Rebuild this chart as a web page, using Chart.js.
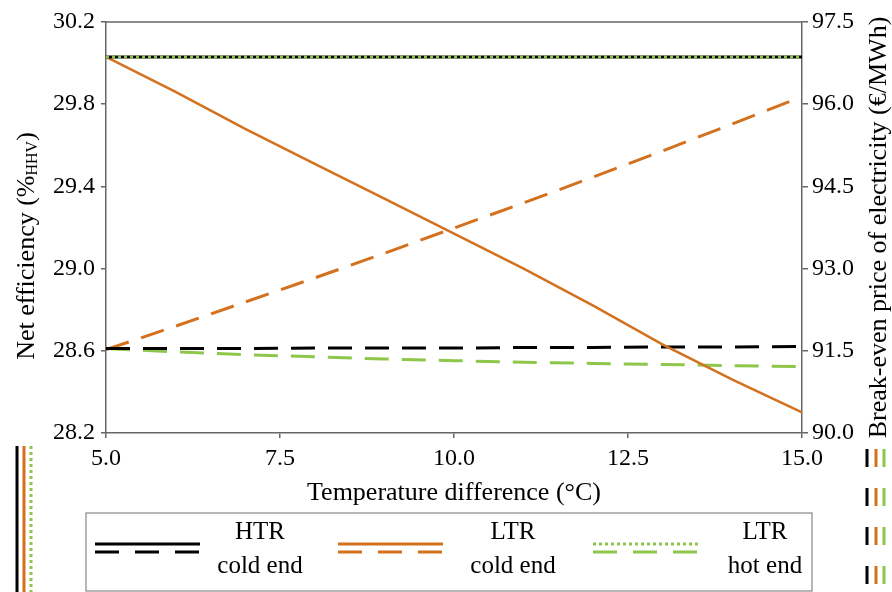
<!DOCTYPE html>
<html>
<head>
<meta charset="utf-8">
<script src="https://cdn.jsdelivr.net/npm/chart.js@4.4.1/dist/chart.umd.min.js"></script>
<style>
  html, body { margin: 0; padding: 0; background: #fff; }
  #wrap { width: 892px; height: 592px; }
</style>
</head>
<body>
<div id="wrap"><canvas id="graphEfficiencyPrice"></canvas></div>
<script>
// temperature difference (°C)
var temperatureDiff = [5, 6, 7, 8, 9, 10, 11, 12, 13, 14, 15];

// net efficiency (%HHV)
var effHtrCold = [30.03, 30.03, 30.03, 30.03, 30.03, 30.03, 30.03, 30.03, 30.03, 30.03, 30.03];
var effLtrCold = [30.03, 29.86, 29.68, 29.51, 29.34, 29.17, 29.00, 28.82, 28.63, 28.46, 28.30];
var effLtrHot = [30.03, 30.03, 30.03, 30.03, 30.03, 30.03, 30.03, 30.03, 30.03, 30.03, 30.03];

// break-even price of electricity (€/MWh)
var priceHtrCold = [91.54, 91.54, 91.54, 91.55, 91.55, 91.55, 91.56, 91.56, 91.57, 91.57, 91.58];
var priceLtrCold = [91.52, 91.95, 92.39, 92.83, 93.28, 93.74, 94.20, 94.67, 95.15, 95.64, 96.14];
var priceLtrHot = [91.54, 91.48, 91.43, 91.39, 91.35, 91.32, 91.29, 91.27, 91.25, 91.23, 91.21];

var black = '#000000';
var orange = '#d4711f';
var green = '#8dc64a';
var axisColor = '#666666';
var serif = '"Liberation Serif", "Times New Roman", serif';

function pts(ys) {
    return temperatureDiff.map(function (x, i) { return {x: x, y: ys[i]}; });
}

// frame, rotated titles, legend box and the stray legend pieces at the edges
var decorations = {
    id: 'decorations',
    afterDraw: function (chart) {
        var ctx = chart.ctx;
        var a = chart.chartArea;
        ctx.save();

        ctx.strokeStyle = axisColor;
        ctx.lineWidth = 1.5;
        ctx.beginPath();
        ctx.moveTo(a.left, a.top);
        ctx.lineTo(a.right, a.top);
        ctx.stroke();

        // left title with subscript
        ctx.fillStyle = '#000';
        ctx.textBaseline = 'middle';
        ctx.save();
        ctx.translate(27, 246);
        ctx.rotate(-Math.PI / 2);
        var big = '26px ' + serif, small = '16px ' + serif;
        ctx.font = big;
        var p1 = 'Net efficiency (%', p3 = ')';
        var w1 = ctx.measureText(p1).width, w3 = ctx.measureText(p3).width;
        ctx.font = small;
        var w2 = ctx.measureText('HHV').width;
        var x0 = -(w1 + w2 + w3) / 2;
        ctx.font = big;
        ctx.textAlign = 'left';
        ctx.fillText(p1, x0, 0);
        ctx.font = small;
        ctx.fillText('HHV', x0 + w1, 6);
        ctx.font = big;
        ctx.fillText(p3, x0 + w1 + w2, 0);
        ctx.restore();

        // right title
        ctx.save();
        ctx.translate(879, (a.top + a.bottom) / 2);
        ctx.rotate(-Math.PI / 2);
        ctx.font = '26px ' + serif;
        ctx.textAlign = 'center';
        ctx.fillText('Break-even price of electricity (€/MWh)', 0, 0);
        ctx.restore();

        // legend
        ctx.strokeStyle = '#888';
        ctx.lineWidth = 1.2;
        ctx.strokeRect(86, 513, 726, 78);
        var entries = [
            {x: 95, tx: 260, c: black, top: [], l1: 'HTR', l2: 'cold end'},
            {x: 338, tx: 513, c: orange, top: [], l1: 'LTR', l2: 'cold end'},
            {x: 593, tx: 765, c: green, top: [3, 3], l1: 'LTR', l2: 'hot end'}
        ];
        entries.forEach(function (e) {
            ctx.strokeStyle = e.c;
            ctx.lineWidth = 3;
            ctx.setLineDash(e.top);
            ctx.beginPath();
            ctx.moveTo(e.x, 544);
            ctx.lineTo(e.x + 105, 544);
            ctx.stroke();
            ctx.setLineDash([24, 16]);
            ctx.beginPath();
            ctx.moveTo(e.x, 552);
            ctx.lineTo(e.x + 105, 552);
            ctx.stroke();
            ctx.setLineDash([]);
            ctx.fillStyle = '#000';
            ctx.font = '25px ' + serif;
            ctx.textAlign = 'center';
            ctx.fillText(e.l1, e.tx, 532);
            ctx.fillText(e.l2, e.tx, 566);
        });

        // clipped legend pieces on the left and right edges
        ctx.lineWidth = 3;
        [[17, black, []], [24, orange, []], [31, green, [3, 3]]].forEach(function (s) {
            ctx.strokeStyle = s[1];
            ctx.setLineDash(s[2]);
            ctx.beginPath();
            ctx.moveTo(s[0], 446);
            ctx.lineTo(s[0], 592);
            ctx.stroke();
        });
        ctx.setLineDash([]);
        [[867, black], [876, orange], [884, green]].forEach(function (s) {
            ctx.strokeStyle = s[1];
            [449, 488, 527, 566].forEach(function (y) {
                ctx.beginPath();
                ctx.moveTo(s[0], y);
                ctx.lineTo(s[0], y + 18);
                ctx.stroke();
            });
        });
        ctx.restore();
    }
};

var graphEfficiencyPrice = document.getElementById('graphEfficiencyPrice').getContext('2d');
new Chart(graphEfficiencyPrice, {
    type: 'line',
    data: {
        datasets: [
            {
                label: 'HTR cold end efficiency',
                data: pts(effHtrCold),
                yAxisID: 'yEff',
                borderColor: black,
                borderWidth: 3,
                order: 2
            },
            {
                label: 'LTR hot end efficiency',
                data: pts(effLtrHot),
                yAxisID: 'yEff',
                borderColor: green,
                borderWidth: 3,
                borderDash: [3, 3],
                order: 1
            },
            {
                label: 'LTR cold end efficiency',
                data: pts(effLtrCold),
                yAxisID: 'yEff',
                borderColor: orange,
                borderWidth: 2.5,
                order: 3
            },
            {
                label: 'HTR cold end price',
                data: pts(priceHtrCold),
                yAxisID: 'yPrice',
                borderColor: black,
                borderWidth: 3,
                borderDash: [24, 13],
                order: 4
            },
            {
                label: 'LTR cold end price',
                data: pts(priceLtrCold),
                yAxisID: 'yPrice',
                borderColor: orange,
                borderWidth: 3,
                borderDash: [24, 13],
                order: 5
            },
            {
                label: 'LTR hot end price',
                data: pts(priceLtrHot),
                yAxisID: 'yPrice',
                borderColor: green,
                borderWidth: 3,
                borderDash: [24, 13],
                order: 6
            }
        ]
    },
    options: {
        responsive: true,
        maintainAspectRatio: false,
        animation: false,
        elements: {
            point: {radius: 0},
            line: {tension: 0, borderCapStyle: 'butt'}
        },
        layout: {
            padding: {left: 0, right: 0, top: 22, bottom: 83}
        },
        plugins: {
            legend: {display: false},
            tooltip: {enabled: false}
        },
        scales: {
            x: {
                type: 'linear',
                min: 5,
                max: 15,
                afterFit: function (scale) { scale.height = 76; },
                ticks: {
                    stepSize: 2.5,
                    padding: 6,
                    color: '#000',
                    font: {family: serif, size: 24},
                    maxRotation: 0,
                    callback: function (v) { return v.toFixed(1); }
                },
                grid: {drawOnChartArea: false, tickLength: 5, color: axisColor, lineWidth: 1.5},
                border: {color: axisColor, width: 1.5},
                title: {
                    display: true,
                    text: 'Temperature difference (°C)',
                    color: '#000',
                    font: {family: serif, size: 26},
                    padding: 0
                }
            },
            yEff: {
                type: 'linear',
                position: 'left',
                min: 28.2,
                max: 30.2,
                afterFit: function (scale) { scale.width = 106; },
                ticks: {
                    stepSize: 0.4,
                    padding: 6,
                    color: '#000',
                    font: {family: serif, size: 24},
                    callback: function (v) { return v.toFixed(1); }
                },
                grid: {drawOnChartArea: false, tickLength: 5, color: axisColor, lineWidth: 1.5},
                border: {color: axisColor, width: 1.5}
            },
            yPrice: {
                type: 'linear',
                position: 'right',
                min: 90,
                max: 97.5,
                afterFit: function (scale) { scale.width = 90; },
                ticks: {
                    stepSize: 1.5,
                    padding: 4,
                    color: '#000',
                    font: {family: serif, size: 24},
                    callback: function (v) { return v.toFixed(1); }
                },
                grid: {drawOnChartArea: false, tickLength: 6, color: axisColor, lineWidth: 1.5},
                border: {color: axisColor, width: 1.5}
            }
        }
    },
    plugins: [decorations]
});
</script>
</body>
</html>
